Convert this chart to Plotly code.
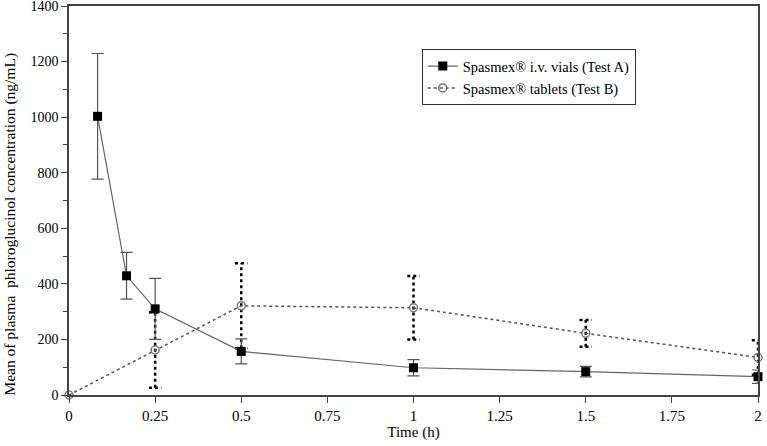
import plotly.graph_objects as go

# Data
time_a = [0.083, 0.167, 0.25, 0.5, 1.0, 1.5, 2.0]
conc_a = [1003, 429, 310, 157, 98, 84, 66]
sd_a = [226, 84, 110, 45, 29, 19, 24]

time_b = [0.0, 0.25, 0.5, 1.0, 1.5, 2.0]
conc_b = [0, 162, 321, 314, 222, 135]
sd_b = [0, 136, 153, 114, 48, 62]

x_ticks = [0, 0.25, 0.5, 0.75, 1, 1.25, 1.5, 1.75, 2]
x_tick_labels = ["0", "0.25", "0.5", "0.75", "1", "1.25", "1.5", "1.75", "2"]
y_ticks = [0, 200, 400, 600, 800, 1000, 1200, 1400]

name_a = "Spasmex® i.v. vials (Test A)"
name_b = "Spasmex® tablets (Test B)"
y_title = "Mean of plasma  phloroglucinol concentration (ng/mL)"

FONT = "Liberation Serif, Times New Roman, serif"

fig = go.Figure()

# Dotted error bars for Test B drawn as line segments from data
cap = 0.018
ex, ey = [], []
for t, c, s in zip(time_b, conc_b, sd_b):
    if s <= 0:
        continue
    ex += [t, t, None, t - cap, t + cap, None, t - cap, t + cap, None]
    ey += [c - s, c + s, None, c + s, c + s, None, c - s, c - s, None]
fig.add_trace(go.Scatter(
    x=ex, y=ey, mode="lines", showlegend=False, hoverinfo="skip",
    line=dict(color="black", width=2.5, dash="dot"), cliponaxis=False,
))

fig.add_trace(go.Scatter(
    x=time_b, y=conc_b, mode="lines+markers", name=name_b, cliponaxis=False,
    line=dict(color="#555555", width=1.5, dash="dot"),
    marker=dict(symbol="circle-open", size=8, color="#777777", line=dict(width=1.5)),
))

fig.add_trace(go.Scatter(
    x=time_a, y=conc_a, mode="lines+markers", name=name_a, cliponaxis=False,
    line=dict(color="#666666", width=1.2),
    marker=dict(symbol="square", size=9, color="black"),
    error_y=dict(type="data", array=sd_a, visible=True, color="#555555",
                 thickness=1.2, width=6),
))

fig.add_annotation(
    text=y_title, xref="paper", yref="paper", x=-0.086, y=0.44,
    xanchor="center", yanchor="middle", textangle=-90, showarrow=False,
    font=dict(family=FONT, size=15.5, color="black"),
)

fig.update_layout(
    width=767, height=446,
    margin=dict(l=69, r=9, t=6, b=51, autoexpand=False),
    paper_bgcolor="white", plot_bgcolor="white",
    font=dict(family=FONT, size=14, color="black"),
    showlegend=True,
    legend=dict(
        x=0.512, y=0.889, xanchor="left", yanchor="top",
        bordercolor="#333333", borderwidth=1, bgcolor="white",
        traceorder="reversed",
        font=dict(family=FONT, size=14.5, color="black"),
        itemwidth=30, tracegroupgap=0,
    ),
    xaxis=dict(
        range=[0, 2], tickmode="array", tickvals=x_ticks, ticktext=x_tick_labels,
        showgrid=False, zeroline=False, showline=True, linecolor="#444444",
        linewidth=1.5, mirror=True, ticks="outside", ticklen=6, tickcolor="#444444",
        automargin=False, ticklabeloverflow="allow",
        title=dict(text="Time (h)", font=dict(family=FONT, size=15), standoff=4),
        tickfont=dict(family=FONT, size=15),
    ),
    yaxis=dict(
        range=[0, 1400], tickmode="array", tickvals=y_ticks,
        showgrid=False, zeroline=False, showline=True, linecolor="#444444",
        linewidth=1.5, mirror=True, ticks="outside", ticklen=6, tickcolor="#444444",
        automargin=False, ticklabeloverflow="allow",
        minor=dict(dtick=100, ticks="outside", ticklen=4, tickcolor="#444444"),
        tickfont=dict(family=FONT, size=14),
    ),
)

fig.write_html("out.html", post_script="document.body.style.margin='0';",
               config={"displayModeBar": False})
